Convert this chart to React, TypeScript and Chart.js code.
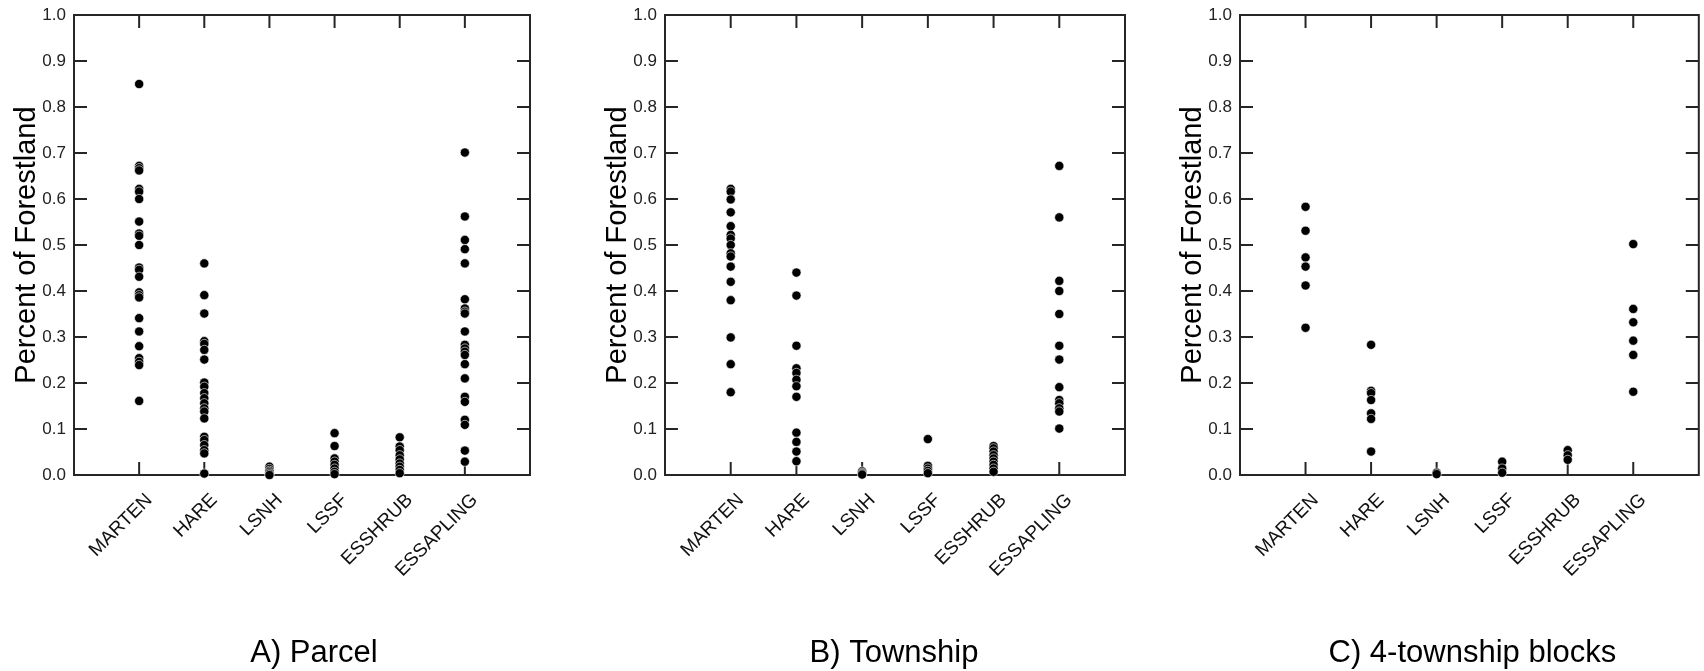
import React, { useEffect, useRef } from 'react';
import { Chart, registerables } from 'chart.js';

Chart.register(...registerables);

// ---------- data ----------
const categories = ['MARTEN', 'HARE', 'LSNH', 'LSSF', 'ESSHRUB', 'ESSAPLING'];
const yTickValues = [0, 0.1, 0.2, 0.3, 0.4, 0.5, 0.6, 0.7, 0.8, 0.9, 1.0];
const yAxisTitle = 'Percent of Forestland';
const panelTitles = ['A) Parcel', 'B) Township', 'C) 4-township blocks'];

// A) Parcel
const parcelMarten = [0.85, 0.672, 0.667, 0.662, 0.622, 0.616, 0.6, 0.551, 0.525, 0.52, 0.5, 0.451, 0.446, 0.431, 0.397, 0.391, 0.386, 0.341, 0.312, 0.28, 0.254, 0.246, 0.239, 0.161];
const parcelHare = [0.46, 0.391, 0.351, 0.291, 0.285, 0.272, 0.251, 0.201, 0.192, 0.178, 0.167, 0.156, 0.145, 0.138, 0.123, 0.083, 0.076, 0.065, 0.054, 0.047, 0.003];
const parcelLsnh = [0.018, 0.013, 0.009, 0.006, 0.003, 0.0];
const parcelLssf = [0.091, 0.063, 0.036, 0.029, 0.022, 0.014, 0.007, 0.002];
const parcelEsshrub = [0.082, 0.062, 0.054, 0.043, 0.034, 0.025, 0.018, 0.011, 0.004];
const parcelEssapling = [0.701, 0.562, 0.511, 0.491, 0.46, 0.382, 0.362, 0.355, 0.351, 0.312, 0.283, 0.275, 0.268, 0.261, 0.241, 0.21, 0.17, 0.159, 0.12, 0.109, 0.053, 0.029];

// B) Township
const townshipMarten = [0.622, 0.616, 0.599, 0.571, 0.541, 0.522, 0.514, 0.5, 0.482, 0.475, 0.453, 0.42, 0.38, 0.299, 0.241, 0.18];
const townshipHare = [0.44, 0.39, 0.281, 0.232, 0.222, 0.207, 0.193, 0.17, 0.092, 0.072, 0.051, 0.03];
const townshipLsnh = [0.008, 0.005, 0.003, 0.001];
const townshipLssf = [0.078, 0.02, 0.014, 0.009, 0.004];
const townshipEsshrub = [0.063, 0.058, 0.051, 0.043, 0.036, 0.029, 0.022, 0.014, 0.007];
const townshipEssapling = [0.672, 0.56, 0.422, 0.4, 0.35, 0.281, 0.251, 0.191, 0.163, 0.156, 0.145, 0.138, 0.101];

// C) 4-township blocks
const blockMarten = [0.583, 0.531, 0.473, 0.453, 0.412, 0.32];
const blockHare = [0.283, 0.183, 0.178, 0.163, 0.134, 0.122, 0.051];
const blockLsnh = [0.005, 0.002];
const blockLssf = [0.029, 0.014, 0.005];
const blockEsshrub = [0.054, 0.043, 0.033];
const blockEssapling = [0.502, 0.361, 0.332, 0.292, 0.261, 0.181];

const panelSeries = [
  [parcelMarten, parcelHare, parcelLsnh, parcelLssf, parcelEsshrub, parcelEssapling],
  [townshipMarten, townshipHare, townshipLsnh, townshipLssf, townshipEsshrub, townshipEssapling],
  [blockMarten, blockHare, blockLsnh, blockLssf, blockEsshrub, blockEssapling],
];

// ---------- layout ----------
const H = 671;
const FONT = '"Liberation Sans", Arial, Helvetica, sans-serif';
const panelLayout = [
  { left: 0, width: 591, padRight: 61, titleDx: 12 },
  { left: 591, width: 575, padRight: 41, titleDx: -1 },
  { left: 1166, width: 538, padRight: 2, titleDx: 3 },
];

const framePlugin = {
  id: 'frameTicks',
  beforeDatasetsDraw(chart: any) {
    const { ctx, chartArea, scales } = chart;
    const { left, right, top, bottom } = chartArea;
    const x = scales.x;
    const y = scales.y;
    const L = 13;
    ctx.save();
    ctx.strokeStyle = '#262626';
    ctx.lineWidth = 2;
    ctx.strokeRect(left, top, right - left, bottom - top);
    ctx.beginPath();
    yTickValues.forEach((v) => {
      const py = y.getPixelForValue(v);
      ctx.moveTo(left, py);
      ctx.lineTo(left + L, py);
      ctx.moveTo(right, py);
      ctx.lineTo(right - L, py);
    });
    categories.forEach((_, i) => {
      const px = x.getPixelForValue(i + 1);
      ctx.moveTo(px, top);
      ctx.lineTo(px, top + L);
      ctx.moveTo(px, bottom);
      ctx.lineTo(px, bottom - L);
    });
    ctx.stroke();
    ctx.restore();
  },
};

const titlePlugin = {
  id: 'panelTitle',
  afterDraw(chart: any, _args: any, opts: any) {
    const { ctx, chartArea } = chart;
    ctx.save();
    ctx.font = `31px ${FONT}`;
    ctx.fillStyle = '#000';
    ctx.textAlign = 'center';
    ctx.textBaseline = 'alphabetic';
    ctx.fillText(opts.text, (chartArea.left + chartArea.right) / 2 + opts.dx, 662);
    ctx.restore();
  },
};

function Panel({ index }: { index: number }) {
  const ref = useRef<HTMLCanvasElement | null>(null);
  const lay = panelLayout[index];
  useEffect(() => {
    if (!ref.current) return;
    const series = panelSeries[index];
    const datasets = categories.map((cat, i) => ({
      label: cat,
      data: series[i].map((v) => ({ x: i + 1, y: v })),
      pointRadius: 4.6,
      pointBackgroundColor: '#000',
      pointBorderColor: '#ffffff',
      pointBorderWidth: 0.6,
      pointHoverRadius: 4.6,
      showLine: false,
      clip: false as any,
    }));
    const chart = new Chart(ref.current, {
      type: 'scatter',
      data: { datasets },
      plugins: [framePlugin, titlePlugin],
      options: {
        animation: false,
        responsive: false,
        maintainAspectRatio: false,
        events: [],
        layout: { padding: { top: 15, right: lay.padRight, left: 0, bottom: 0 } },
        plugins: {
          legend: { display: false },
          tooltip: { enabled: false },
          panelTitle: { text: panelTitles[index], dx: lay.titleDx },
        } as any,
        scales: {
          x: {
            type: 'linear',
            min: 0,
            max: 7,
            grid: { display: false, drawTicks: false },
            border: { display: false },
            ticks: {
              stepSize: 1,
              autoSkip: false,
              minRotation: 45,
              maxRotation: 45,
              padding: 14,
              labelOffset: 10,
              color: '#111',
              font: { family: FONT, size: 19 },
              callback: (v: any) => categories[Number(v) - 1] ?? '',
            },
            afterFit: (s: any) => {
              s.height = 196;
              s.paddingLeft = 0;
              s.paddingRight = 0;
            },
          },
          y: {
            type: 'linear',
            min: 0,
            max: 1,
            grid: { display: false, drawTicks: false },
            border: { display: false },
            ticks: {
              stepSize: 0.1,
              padding: 8,
              color: '#222',
              font: { family: FONT, size: 17 },
              callback: (v: any) => Number(v).toFixed(1),
            },
            title: {
              display: true,
              text: yAxisTitle,
              color: '#000',
              font: { family: FONT, size: 29 },
              padding: { top: 10, bottom: 0 },
            },
            afterFit: (s: any) => {
              s.width = 74;
              s.paddingTop = 0;
              s.paddingBottom = 0;
            },
          },
        },
      } as any,
    });
    return () => chart.destroy();
  }, [index]);
  return (
    <canvas
      ref={ref}
      width={lay.width}
      height={H}
      style={{ position: 'absolute', left: lay.left, top: 0, width: lay.width, height: H }}
    />
  );
}

export default function App() {
  return (
    <div style={{ position: 'absolute', left: 0, top: 0, width: 1704, height: H, background: '#fff', overflow: 'hidden' }}>
      <Panel index={0} />
      <Panel index={1} />
      <Panel index={2} />
    </div>
  );
}
